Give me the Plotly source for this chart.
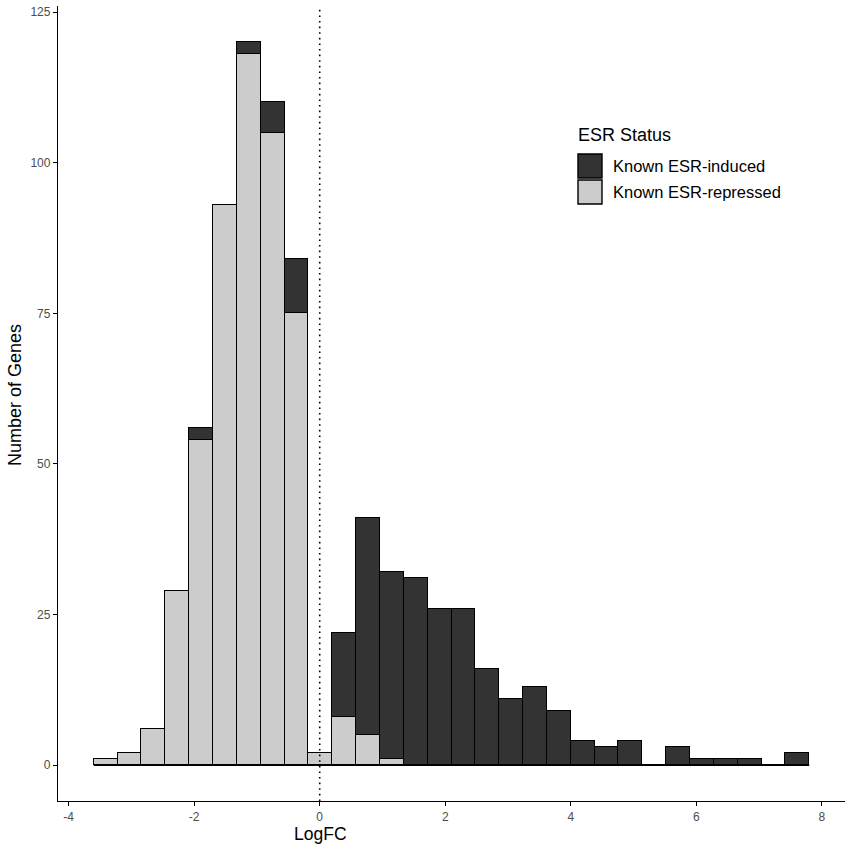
import plotly.graph_objects as go

# histogram bins (ggplot default, 30 bins of width 0.38)
bin_centers = [-3.41, -3.03, -2.65, -2.27, -1.89, -1.51, -1.13, -0.75, -0.37, 0.01,
               0.39, 0.77, 1.15, 1.53, 1.91, 2.29, 2.67, 3.05, 3.43, 3.81,
               4.19, 4.57, 4.95, 5.33, 5.71, 6.09, 6.47, 6.85, 7.23, 7.61]
bin_width = 0.38

repressed = [1, 2, 6, 29, 54, 93, 118, 105, 75, 2,
             8, 5, 1, 0, 0, 0, 0, 0, 0, 0,
             0, 0, 0, 0, 0, 0, 0, 0, 0, 0]
induced = [0, 0, 0, 0, 2, 0, 2, 5, 9, 0,
           14, 36, 31, 31, 26, 26, 16, 11, 13, 9,
           4, 3, 4, 0, 3, 1, 1, 1, 0, 2]

status_labels = ["Known ESR-induced", "Known ESR-repressed"]
status_colors = ["#333333", "#cccccc"]

x_ticks = [-4, -2, 0, 2, 4, 6, 8]
x_tick_labels = ["-4", "-2", "0", "2", "4", "6", "8"]
y_ticks = [0, 25, 50, 75, 100, 125]

fig = go.Figure()

fig.add_trace(go.Bar(x=bin_centers, y=repressed, width=bin_width, name=status_labels[1],
                     marker=dict(color=status_colors[1], line=dict(color="black", width=1.4)),
                     showlegend=False))
fig.add_trace(go.Bar(x=bin_centers, y=induced, width=bin_width, name=status_labels[0],
                     marker=dict(color=status_colors[0], line=dict(color="black", width=1.4)),
                     showlegend=False))

# empty bins still show their outline along the baseline
edges = [bin_centers[0] - bin_width / 2, bin_centers[-1] + bin_width / 2]
fig.add_trace(go.Scatter(x=edges, y=[0, 0], mode="lines",
                         line=dict(color="black", width=1.4), showlegend=False, hoverinfo="skip"))

fig.add_vline(x=0, line=dict(color="black", width=1.6, dash="1.6px,4px"))

# plot area as in the reference: x 58..845, y 6..801
ml, mt = 58, 6
plot_r, plot_b = 845, 801
W, H = 851, 850


def px_x(p):
    return (p - ml) / (plot_r - ml)


def px_y(p):
    return (plot_b - p) / (plot_b - mt)


# hand-drawn legend in ggplot style
fig.add_annotation(x=px_x(576), y=px_y(135), xref="paper", yref="paper", text="ESR Status",
                   showarrow=False, xanchor="left", yanchor="middle",
                   font=dict(size=18, color="black"))
for i, (lab, col) in enumerate(zip(status_labels, status_colors)):
    top = 154 + i * 26
    fig.add_shape(type="rect", xref="paper", yref="paper",
                  x0=px_x(578), x1=px_x(602), y0=px_y(top + 24), y1=px_y(top),
                  fillcolor=col, line=dict(color="black", width=1.4))
    fig.add_annotation(x=px_x(611), y=px_y(top + 12), xref="paper", yref="paper", text=lab,
                       showarrow=False, xanchor="left", yanchor="middle",
                       font=dict(size=16.5, color="black"))

# axis titles
fig.add_annotation(x=px_x(320), y=px_y(834), xref="paper", yref="paper", text="LogFC",
                   showarrow=False, xanchor="center", yanchor="middle",
                   font=dict(size=17.5, color="black"))
fig.add_annotation(x=px_x(15), y=px_y(395), xref="paper", yref="paper", text="Number of Genes",
                   showarrow=False, xanchor="center", yanchor="middle", textangle=-90,
                   font=dict(size=18, color="black"))

fig.update_layout(
    width=W, height=H,
    margin=dict(l=ml, r=W - plot_r, t=mt, b=H - plot_b),
    barmode="stack", bargap=0,
    plot_bgcolor="white", paper_bgcolor="white",
    font=dict(family="Liberation Sans, Arial, sans-serif", color="black"),
)
fig.update_xaxes(range=[-4.17, 8.37], tickvals=x_ticks, ticktext=x_tick_labels,
                 showgrid=False, zeroline=False,
                 showline=True, linecolor="black", linewidth=1.3, automargin=False,
                 ticks="outside", ticklen=4, tickcolor="black",
                 tickfont=dict(size=12, color="#4d4d4d"))
fig.update_yaxes(range=[-5.93, 126], tickvals=y_ticks, showgrid=False, zeroline=False,
                 showline=True, linecolor="black", linewidth=1.3, automargin=False,
                 ticks="outside", ticklen=4, tickcolor="black", ticklabeloverflow="allow",
                 tickfont=dict(size=12, color="#4d4d4d"))

# drop the browser's default 8px body margin so the figure sits at the page corner
fig.write_html("out.html", config={"displayModeBar": False},
               post_script="document.body.style.margin = '0';")
